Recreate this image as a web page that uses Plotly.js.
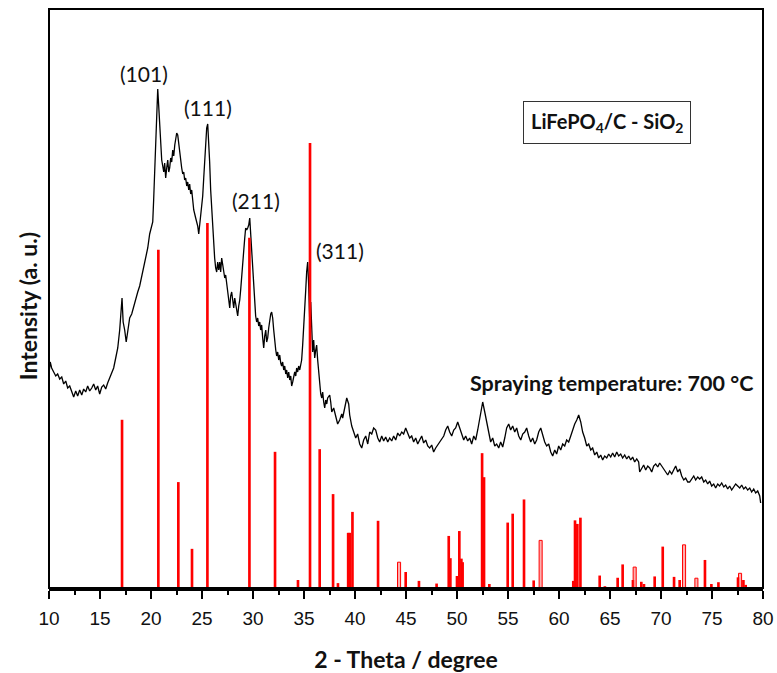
<!DOCTYPE html>
<html>
<head>
<meta charset="utf-8">
<script src="https://cdn.plot.ly/plotly-3.0.1.min.js"></script>
<style>
  html, body { margin: 0; padding: 0; background: #fff; }
  #chart { width: 777px; height: 673px; }
</style>
</head>
<body>
<div id="chart"></div>
<script>
// Measured XRD pattern of the spray-dried LiFePO4/C - SiO2 powder (arbitrary units)
const twoTheta = [
  10.02, 10.12, 10.26, 10.46, 10.66, 10.85, 11.05, 11.25, 11.44, 11.64, 11.83, 12.03, 12.23, 12.42, 12.62, 12.81,
  13.01, 13.21, 13.40, 13.60, 13.79, 13.99, 14.19, 14.38, 14.58, 14.77, 14.97, 15.17, 15.36, 15.56, 15.75, 15.95,
  16.15, 16.34, 16.54, 16.74, 16.93, 17.03, 17.16, 17.27, 17.42, 17.57, 17.72, 17.91, 18.11, 18.30, 18.50, 18.70,
  18.89, 19.09, 19.28, 19.48, 19.68, 19.87, 20.07, 20.17, 20.26, 20.36, 20.46, 20.56, 20.66, 20.75, 20.85, 20.95,
  21.05, 21.15, 21.25, 21.34, 21.44, 21.54, 21.64, 21.74, 21.83, 21.93, 22.03, 22.13, 22.23, 22.33, 22.42, 22.52,
  22.62, 22.72, 22.81, 22.91, 23.01, 23.11, 23.21, 23.30, 23.40, 23.50, 23.60, 23.70, 23.79, 23.89, 23.99, 24.09,
  24.19, 24.38, 24.58, 24.68, 24.77, 24.87, 24.97, 25.07, 25.17, 25.26, 25.36, 25.46, 25.56, 25.66, 25.75, 25.85,
  25.95, 26.05, 26.15, 26.24, 26.34, 26.44, 26.54, 26.64, 26.74, 26.83, 26.93, 27.03, 27.13, 27.23, 27.32, 27.42,
  27.52, 27.62, 27.72, 27.81, 27.91, 28.01, 28.11, 28.21, 28.30, 28.40, 28.50, 28.60, 28.70, 28.79, 28.89, 28.99,
  29.09, 29.19, 29.28, 29.38, 29.48, 29.58, 29.68, 29.77, 29.87, 29.97, 30.07, 30.17, 30.26, 30.36, 30.46, 30.56,
  30.66, 30.75, 30.85, 30.95, 31.05, 31.15, 31.25, 31.34, 31.44, 31.54, 31.64, 31.74, 31.83, 31.93, 32.03, 32.13,
  32.23, 32.32, 32.42, 32.52, 32.62, 32.72, 32.81, 32.91, 33.01, 33.11, 33.21, 33.30, 33.40, 33.50, 33.60, 33.70,
  33.79, 33.89, 33.99, 34.09, 34.19, 34.28, 34.38, 34.48, 34.58, 34.68, 34.77, 34.87, 34.97, 35.07, 35.17, 35.26,
  35.36, 35.46, 35.56, 35.66, 35.75, 35.85, 35.95, 36.05, 36.15, 36.24, 36.34, 36.44, 36.54, 36.64, 36.74, 36.83,
  36.93, 37.03, 37.13, 37.23, 37.32, 37.52, 37.62, 37.72, 37.91, 38.11, 38.30, 38.50, 38.70, 38.79, 38.99, 39.19,
  39.38, 39.48, 39.68, 39.87, 40.07, 40.26, 40.46, 40.66, 40.85, 41.05, 41.25, 41.44, 41.64, 41.83, 42.03, 42.23,
  42.42, 42.62, 42.81, 43.01, 43.21, 43.40, 43.60, 43.79, 43.99, 44.19, 44.38, 44.58, 44.77, 44.97, 45.17, 45.36,
  45.56, 45.75, 45.95, 46.15, 46.34, 46.54, 46.73, 46.93, 47.13, 47.32, 47.52, 47.71, 47.91, 48.11, 48.30, 48.50,
  48.70, 48.89, 49.09, 49.28, 49.48, 49.68, 49.87, 50.07, 50.26, 50.46, 50.66, 50.85, 51.05, 51.24, 51.44, 51.64,
  51.83, 52.03, 52.23, 52.42, 52.52, 52.72, 52.91, 53.11, 53.30, 53.50, 53.70, 53.89, 54.09, 54.28, 54.48, 54.68,
  54.87, 55.07, 55.26, 55.46, 55.66, 55.85, 56.05, 56.25, 56.44, 56.64, 56.83, 57.03, 57.23, 57.42, 57.62, 57.81,
  58.01, 58.21, 58.40, 58.60, 58.79, 58.99, 59.19, 59.38, 59.58, 59.77, 59.97, 60.17, 60.36, 60.56, 60.75, 60.95,
  61.15, 61.34, 61.54, 61.74, 61.93, 62.13, 62.32, 62.52, 62.72, 62.91, 63.11, 63.30, 63.50, 63.70, 63.89, 64.09,
  64.28, 64.48, 64.68, 64.87, 65.07, 65.26, 65.46, 65.66, 65.85, 66.05, 66.24, 66.44, 66.64, 66.83, 67.03, 67.22,
  67.42, 67.62, 67.81, 67.91, 68.11, 68.30, 68.50, 68.70, 68.89, 69.09, 69.28, 69.48, 69.68, 69.87, 70.07, 70.26,
  70.46, 70.66, 70.85, 71.05, 71.24, 71.44, 71.64, 71.83, 72.03, 72.23, 72.42, 72.62, 72.81, 73.01, 73.21, 73.40,
  73.60, 73.79, 73.99, 74.19, 74.38, 74.58, 74.77, 74.97, 75.17, 75.36, 75.56, 75.75, 75.95, 76.15, 76.34, 76.54,
  76.73, 76.93, 77.13, 77.32, 77.52, 77.72, 77.91, 78.11, 78.30, 78.50, 78.70, 78.89, 79.09, 79.28, 79.48, 79.68,
  79.77
];
const intensity = [
  216, 226, 220, 216, 212, 214, 209, 211, 204, 207, 200, 202, 196, 191, 197, 192,
  198, 193, 199, 196, 202, 197, 200, 204, 198, 202, 194, 201, 203, 199, 205, 210,
  215, 220, 230, 240, 258, 278, 290, 266, 258, 246, 258, 270, 274, 282, 288, 296,
  302, 312, 318, 330, 340, 354, 362, 366, 388, 413, 438, 473, 499, 483, 460, 443,
  428, 422, 416, 425, 410, 420, 428, 416, 420, 430, 426, 438, 432, 443, 450, 455,
  453, 443, 436, 423, 420, 414, 416, 408, 410, 402, 406, 398, 404, 394, 398, 388,
  378, 370, 362, 354, 362, 368, 378, 392, 410, 428, 448, 460, 464, 448, 426, 398,
  378, 360, 348, 330, 320, 316, 326, 318, 326, 316, 330, 322, 316, 310, 313, 306,
  298, 292, 280, 292, 296, 288, 280, 290, 283, 276, 272, 282, 288, 298, 313, 330,
  343, 350, 360, 358, 360, 363, 370, 354, 333, 318, 306, 288, 272, 266, 270, 262,
  266, 258, 263, 250, 240, 252, 258, 246, 250, 260, 270, 274, 276, 270, 258, 243,
  238, 232, 236, 228, 233, 225, 222, 226, 218, 222, 214, 218, 210, 216, 208, 212,
  202, 206, 210, 216, 212, 220, 216, 222, 218, 222, 228, 243, 258, 278, 298, 316,
  326, 303, 268, 286, 258, 236, 248, 230, 238, 243, 228, 213, 200, 194, 190, 196,
  186, 180, 188, 184, 190, 193, 186, 176, 180, 170, 164, 168, 174, 170, 180, 190,
  184, 173, 162, 156, 150, 154, 144, 140, 148, 152, 144, 156, 154, 160, 158, 150,
  146, 152, 147, 151, 146, 150, 147, 152, 148, 155, 152, 156, 154, 160, 154, 150,
  152, 146, 150, 144, 148, 152, 145, 148, 142, 140, 143, 136, 140, 143, 146, 150,
  152, 158, 162, 156, 152, 158, 160, 166, 160, 152, 148, 152, 147, 150, 144, 152,
  148, 158, 170, 182, 186, 176, 166, 154, 146, 150, 142, 144, 140, 146, 141, 150,
  160, 164, 158, 162, 156, 160, 152, 148, 154, 156, 160, 152, 146, 150, 144, 148,
  156, 160, 152, 146, 142, 144, 136, 132, 138, 134, 142, 138, 144, 142, 148, 146,
  152, 158, 164, 168, 173, 166, 156, 150, 142, 144, 138, 140, 133, 136, 130, 133,
  128, 132, 130, 134, 131, 135, 131, 136, 132, 134, 130, 133, 129, 132, 128, 131,
  126, 129, 126, 116, 120, 123, 118, 122, 120, 116, 122, 124, 121, 125, 122, 119,
  116, 113, 117, 114, 118, 122, 116, 119, 112, 108, 110, 106, 106, 109, 112, 108,
  111, 109, 111, 106, 108, 104, 107, 102, 104, 100, 104, 102, 105, 101, 103, 99,
  102, 98, 101, 104, 102, 100, 103, 99, 101, 98, 100, 96, 99, 95, 97, 92,
  85
];

// Standard LiFePO4 reflections (relative intensity, strongest line = 100)
const refPos = [
  17.16, 20.72, 22.68, 24.02, 25.53, 29.65, 32.16, 34.41, 35.59, 36.54, 37.85, 38.33, 39.33, 39.50, 39.75, 42.26,
  44.97, 46.27, 48.00, 49.19, 49.35, 50.00, 50.23, 50.43, 50.55, 52.46, 52.65, 53.17, 54.97, 55.46, 56.57, 57.52,
  59.70, 60.00, 61.40, 61.57, 61.80, 62.10, 63.99, 64.50, 65.75, 66.24, 67.25, 68.07, 68.33, 69.38, 70.17, 71.28,
  71.83, 74.31, 74.94, 75.63, 76.20, 77.55, 78.08, 78.30
];
const refInt = [
  37.8, 76.0, 23.8, 8.8, 82.0, 78.7, 30.6, 1.8, 100, 31.2, 21.1, 1.1, 12.4, 12.4, 17.1, 15.1,
  3.6, 1.6, 1.0, 11.7, 6.7, 2.7, 12.8, 6.6, 5.8, 30.3, 24.9, 0.9, 14.7, 16.7, 19.9, 1.7,
  0.2, 0.2, 1.6, 15.2, 14.4, 15.8, 2.8, 0.4, 2.3, 5.3, 1.8, 1.4, 0.9, 2.6, 9.3, 2.5,
  1.8, 6.3, 0.9, 1.3, 0.2, 2.4, 1.8, 0.7
];
// Closely spaced doublets, drawn as outlined sticks
const refPairPos = [44.32, 58.20, 67.42, 72.26, 73.47, 77.75];
const refPairInt = [5.8, 10.7, 4.7, 9.7, 2.2, 3.3];

// Miller indices of the labelled peaks
const peakLabels = ['(101)', '(111)', '(211)', '(311)'];
const peakLabelX = [19.28, 25.56, 30.27, 38.50];
const peakLabelY = [515, 481, 388, 338];

const sampleLabel = 'LiFePO<sub>4</sub>/C - SiO<sub>2</sub>';
const conditionLabel = 'Spraying temperature: 700 °C';
const xTitle = '2 - Theta / degree';
const yTitle = 'Intensity (a. u.)';

const FONT = 'Lato, "Open Sans", sans-serif';

const traces = [
  {
    type: 'bar', x: refPos, y: refInt, yaxis: 'y2', width: 0.26,
    marker: { color: '#ff0000', line: { width: 0 } },
    hoverinfo: 'x+y', showlegend: false
  },
  {
    type: 'bar', x: refPairPos, y: refPairInt, yaxis: 'y2', width: 0.3,
    marker: { color: 'rgba(255,110,110,0.55)', line: { color: '#ff0000', width: 1 } },
    hoverinfo: 'x+y', showlegend: false
  },
  {
    type: 'scatter', mode: 'lines', x: twoTheta, y: intensity,
    line: { color: '#000', width: 1.3 }, showlegend: false
  }
];

const annotations = peakLabels.map((t, i) => ({
  x: peakLabelX[i], y: peakLabelY[i], xref: 'x', yref: 'y', text: t, showarrow: false,
  font: { family: FONT, size: 21, color: '#111' }
}));
annotations.push({
  x: 64.67, y: 466, xref: 'x', yref: 'y', text: sampleLabel, showarrow: false,
  font: { family: FONT, size: 20, color: '#111', weight: 'bold' },
  bordercolor: '#333', borderwidth: 1, borderpad: 7, bgcolor: '#fff'
});
annotations.push({
  x: 65.17, y: 205, xref: 'x', yref: 'y', text: conditionLabel, showarrow: false,
  font: { family: FONT, size: 21.5, color: '#111', weight: 'bold' }
});
// Vertical axis caption, set slightly below the plot centre
annotations.push({
  x: -0.03, y: 0.486, xref: 'paper', yref: 'paper', text: yTitle, showarrow: false,
  textangle: -90, xanchor: 'center', yanchor: 'middle',
  font: { family: FONT, size: 23, color: '#111', weight: 'bold' }
});

const layout = {
  width: 777, height: 673,
  margin: { l: 49, r: 14, t: 9, b: 85, pad: 0 },
  paper_bgcolor: '#fff', plot_bgcolor: '#fff',
  barmode: 'overlay',
  xaxis: {
    range: [10, 80], tick0: 10, dtick: 5, ticks: 'outside', ticklen: 8, tickwidth: 2, tickcolor: '#000',
    showline: true, linewidth: 3, linecolor: '#000', mirror: false,
    showgrid: false, zeroline: false, automargin: false,
    minor: { dtick: 2.5, ticks: 'outside', ticklen: 4, tickwidth: 2, tickcolor: '#000', showgrid: false },
    ticklabelstandoff: 3,
    tickfont: { family: '"Liberation Sans", Arial, sans-serif', size: 19, color: '#111' },
    title: { text: xTitle, font: { family: FONT, size: 23, color: '#111', weight: 'bold' }, standoff: 25 }
  },
  yaxis: {
    range: [0, 579], showticklabels: false, ticks: '', showgrid: false, zeroline: false, showline: false,
    automargin: false
  },
  yaxis2: {
    range: [0, 130.1], overlaying: 'y', visible: false, showgrid: false, zeroline: false
  },
  shapes: [{
    type: 'rect', xref: 'paper', yref: 'paper', x0: 0, x1: 1, y0: 0, y1: 1,
    line: { color: '#000', width: 2 }, fillcolor: 'rgba(0,0,0,0)'
  }],
  annotations: annotations
};

Plotly.newPlot('chart', traces, layout, { displayModeBar: false, staticPlot: true });
</script>
</body>
</html>
